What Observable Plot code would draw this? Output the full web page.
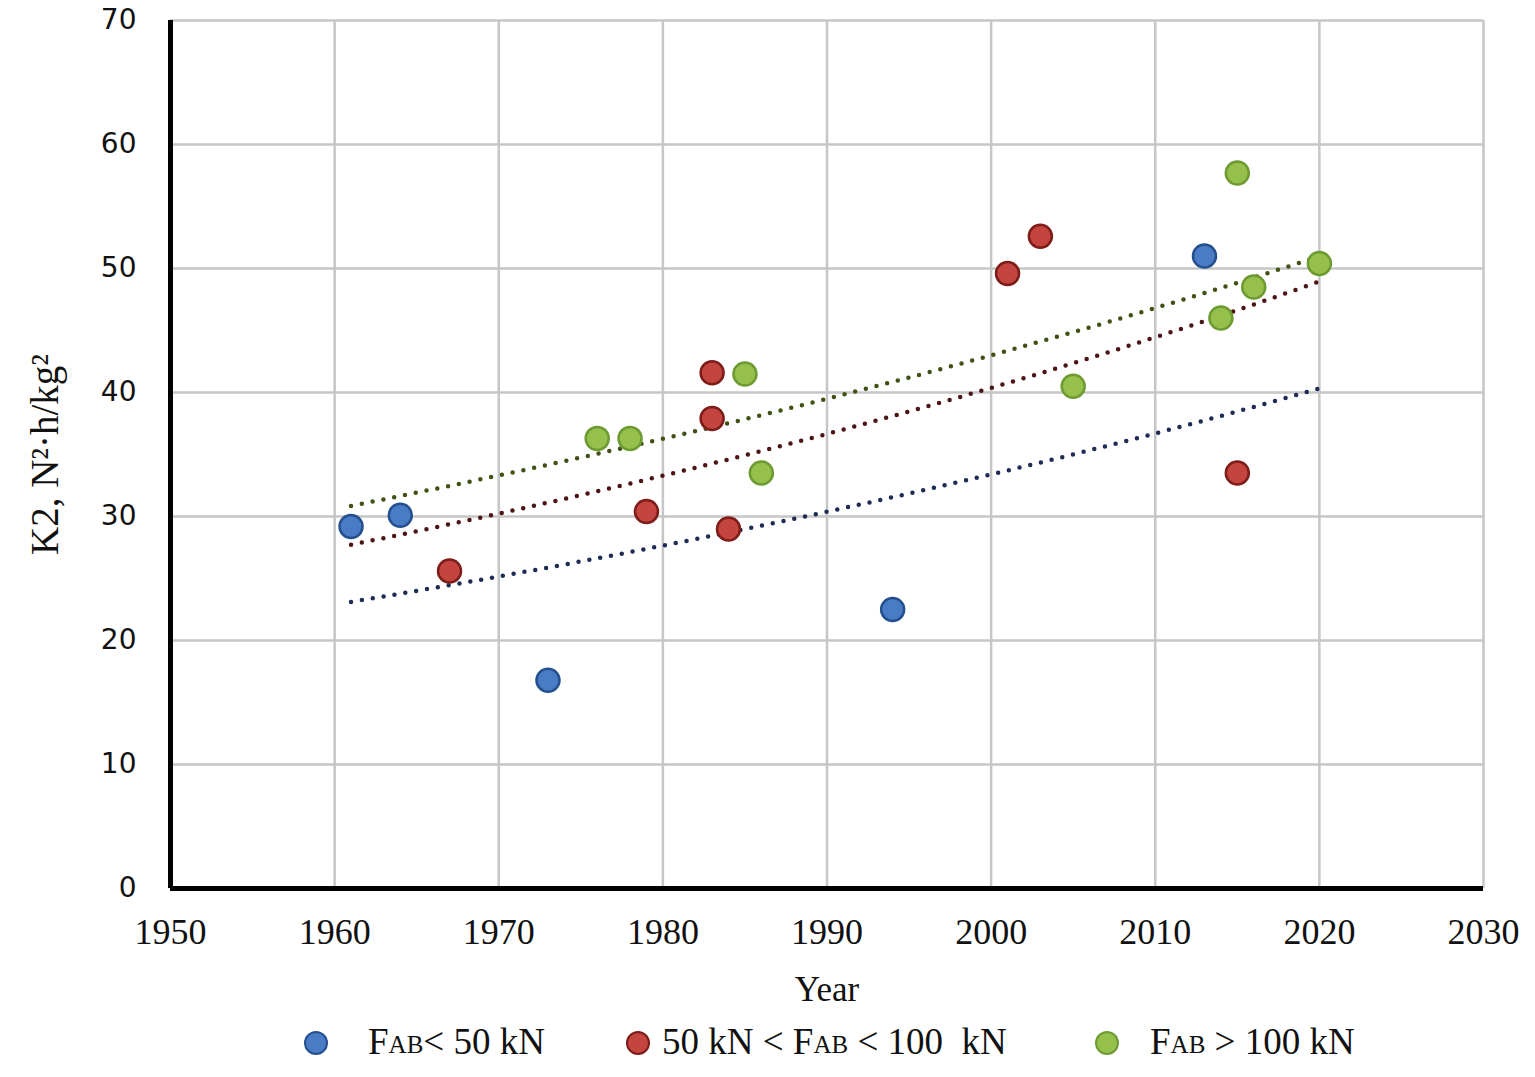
<!DOCTYPE html>
<html>
<head>
<meta charset="utf-8">
<script src="https://cdn.jsdelivr.net/npm/d3@7"></script>
<script src="https://cdn.jsdelivr.net/npm/@observablehq/plot@0.6"></script>
<style>
  body { margin: 0; background: #fff; }
  #chart svg { display: block; }
  .legend { height: 57px; font-family: "Liberation Serif", serif; font-size: 37px; color: #111; position: relative; }
  .item { position: absolute; display: flex; align-items: center; white-space: pre; }
  .sw { width: 24px; height: 24px; border-radius: 50%; border: 2.5px solid; box-sizing: border-box; }
  .sub { font-size: 25px; position: relative; top: 3px; }
</style>
</head>
<body>
<div id="chart"></div>
<div class="legend" id="legend"></div>
<script>
// ---- data ----
const seriesNames = ["FAB < 50 kN", "50 kN < FAB < 100 kN", "FAB > 100 kN"];
const blueYears = [1961, 1964, 1973, 1994, 2013];
const blueValues = [29.2, 30.1, 16.8, 22.5, 51.0];
const redYears = [1967, 1979, 1983, 1983, 1984, 2001, 2003, 2015];
const redValues = [25.6, 30.4, 41.6, 37.9, 29.0, 49.6, 52.6, 33.5];
const greenYears = [1976, 1978, 1985, 1986, 2005, 2014, 2015, 2016, 2020];
const greenValues = [36.3, 36.3, 41.5, 33.5, 40.5, 46.0, 57.7, 48.5, 50.4];
const xTicks = [1950, 1960, 1970, 1980, 1990, 2000, 2010, 2020, 2030];
const yTicks = [0, 10, 20, 30, 40, 50, 60, 70];

const fills = ["#4a7cc6", "#c4453f", "#96c04c"];
const strokes = ["#24508f", "#7d1c18", "#6e9a32"];
const trendColors = ["#1c2c55", "#4c1414", "#3f5214"];

const groups = [
  {name: seriesNames[0], years: blueYears, values: blueValues},
  {name: seriesNames[1], years: redYears, values: redValues},
  {name: seriesNames[2], years: greenYears, values: greenValues}
];

const points = groups.flatMap((g, i) => g.years.map((yr, j) => ({series: i, year: yr, value: g.values[j]})));

// exponential trend lines (least squares on ln y) over the overall data year range
const allYears = points.map(d => d.year);
const x0 = d3.min(allYears), x1 = d3.max(allYears);
const trends = groups.flatMap((g, i) => {
  const xm = d3.mean(g.years);
  const ly = g.values.map(Math.log);
  const lm = d3.mean(ly);
  let sxy = 0, sxx = 0;
  g.years.forEach((x, j) => { sxy += (x - xm) * (ly[j] - lm); sxx += (x - xm) ** 2; });
  const b = sxy / sxx, a = lm - b * xm;
  return d3.range(x0, x1 + 0.001, 0.5).map(x => ({series: i, year: x, value: Math.exp(a + b * x)}));
});

const chart = Plot.plot({
  width: 1535,
  height: 1020,
  marginLeft: 170,
  marginRight: 52,
  marginTop: 20,
  marginBottom: 132,
  style: {fontFamily: "Liberation Serif, serif", color: "#111", background: "#fff"},
  x: {domain: [1950, 2030]},
  y: {domain: [0, 70]},
  marks: [
    Plot.gridX(xTicks.slice(1), {stroke: "#c6c6c6", strokeOpacity: 1, strokeWidth: 2.5}),
    Plot.gridY(yTicks.slice(1), {stroke: "#c6c6c6", strokeOpacity: 1, strokeWidth: 2.5}),
    Plot.axisX({ticks: xTicks, tickSize: 0, tickPadding: 30, tickFormat: d => String(d), fontSize: 36,
      label: "Year", labelAnchor: "center", labelArrow: "none", labelOffset: 112}),
    Plot.axisY({ticks: yTicks, tickSize: 0, tickPadding: 34, fontSize: 28, fontFamily: "DejaVu Sans, sans-serif",
      label: "K2, N²·h/kg²", labelAnchor: "center", labelArrow: "none", labelOffset: 140}),
    Plot.ruleX([1950], {stroke: "#000", strokeWidth: 5}),
    Plot.ruleY([0], {stroke: "#000", strokeWidth: 5}),
    Plot.line(trends, {x: "year", y: "value", z: "series", stroke: d => trendColors[d.series],
      strokeWidth: 4.5, strokeDasharray: "0 11", strokeLinecap: "round"}),
    Plot.dot(points, {x: "year", y: "value", r: 11.5, fill: d => fills[d.series], stroke: d => strokes[d.series],
      strokeWidth: 2.5, fillOpacity: 1})
  ]
});
document.getElementById("chart").appendChild(chart);
// axis label fonts
chart.querySelectorAll("g[aria-label='x-axis label'], g[aria-label='y-axis label']").forEach(g => {
  const isY = g.getAttribute("aria-label").startsWith("y");
  const fs = isY ? "39" : "35";
  g.setAttribute("font-family", "Liberation Serif, serif");
  g.setAttribute("font-size", fs);
  g.querySelectorAll("text").forEach(t => { t.setAttribute("font-size", fs); t.setAttribute("font-family", "Liberation Serif, serif"); });
});

// legend
const lg = document.getElementById("legend");
const legendPos = [[304, 368], [626, 662], [1095, 1150]];
const labelsHtml = [
  'F<span class="sub">AB</span>&lt; 50 kN',
  '50 kN &lt; F<span class="sub">AB</span> &lt; 100  kN',
  'F<span class="sub">AB</span> &gt; 100 kN'
];
seriesNames.forEach((n, i) => {
  const sw = document.createElement("div");
  sw.className = "item";
  sw.style.left = legendPos[i][0] + "px";
  sw.style.top = "11px";
  sw.innerHTML = `<div class="sw" style="background:${fills[i]};border-color:${strokes[i]}"></div>`;
  lg.appendChild(sw);
  const tx = document.createElement("div");
  tx.className = "item";
  tx.style.left = legendPos[i][1] + "px";
  tx.style.top = "0px";
  tx.innerHTML = labelsHtml[i];
  lg.appendChild(tx);
});
</script>
</body>
</html>
